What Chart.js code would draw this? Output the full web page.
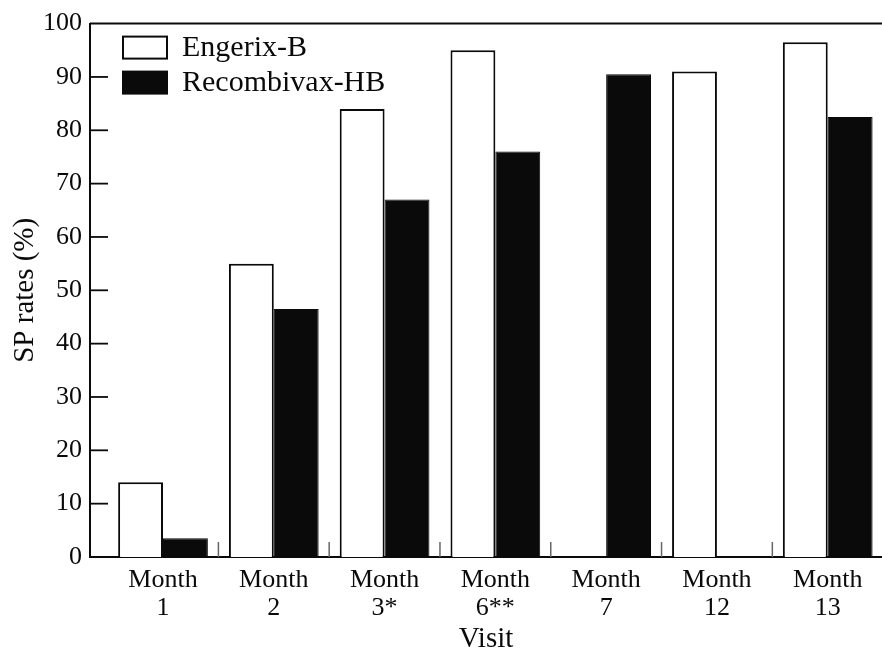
<!DOCTYPE html>
<html>
<head>
<meta charset="utf-8">
<script src="https://cdn.jsdelivr.net/npm/chart.js@4"></script>
<style>
  html, body { margin: 0; padding: 0; background: #fff; }
  #wrap { width: 882px; height: 652px; position: relative; }
</style>
</head>
<body>
<div id="wrap"><canvas id="c"></canvas></div>
<script>
const categories = [["Month", "1"], ["Month", "2"], ["Month", "3*"], ["Month", "6**"], ["Month", "7"], ["Month", "12"], ["Month", "13"]];
const engerixValues = [14, 55, 84, 95, null, 91, 96.5];
const recombivaxValues = [3.5, 46.5, 67, 76, 90.5, null, 82.5];
const yTicks = [0, 10, 20, 30, 40, 50, 60, 70, 80, 90, 100];

const FONT = "'Liberation Serif', 'Times New Roman', serif";
const INK = "#0a0a0a";

function toPoints(vals) {
  return vals.map((v, i) => ({ x: i + 1, y: v }));
}

const framePlugin = {
  id: 'frame',
  afterDatasetsDraw(chart) {
    const { ctx, chartArea: a, scales } = chart;
    const y = scales.y, x = scales.x;
    ctx.save();
    ctx.strokeStyle = INK;
    ctx.lineWidth = 2;
    // top border
    ctx.beginPath();
    ctx.moveTo(a.left, a.top);
    ctx.lineTo(a.right, a.top);
    ctx.stroke();
    // inward tick marks on y axis
    ctx.lineWidth = 1.8;
    yTicks.forEach(v => {
      if (v === 0 || v === 100) return;
      const py = y.getPixelForValue(v);
      ctx.beginPath();
      ctx.moveTo(a.left, py);
      ctx.lineTo(a.left + 18, py);
      ctx.stroke();
    });
    // small separator marks between visits
    ctx.strokeStyle = "#666";
    ctx.lineWidth = 1.5;
    for (let i = 1; i < categories.length; i++) {
      const px = x.getPixelForValue(i + 0.5);
      ctx.beginPath();
      ctx.moveTo(px, a.bottom);
      ctx.lineTo(px, a.bottom - 15);
      ctx.stroke();
    }
    // legend
    const lx = a.left + 33, ly = a.top + 13;
    const sets = chart.data.datasets;
    sets.forEach((ds, k) => {
      const by = ly + k * 35;
      ctx.fillStyle = ds.backgroundColor;
      ctx.fillRect(lx, by, 44, 22);
      ctx.strokeStyle = INK;
      ctx.lineWidth = 2;
      ctx.strokeRect(lx, by, 44, 22);
      ctx.fillStyle = INK;
      ctx.font = "30px " + FONT;
      ctx.textBaseline = 'middle';
      ctx.textAlign = 'left';
      ctx.fillText(ds.label, lx + 59, by + 12);
    });
    ctx.restore();
  }
};

new Chart(document.getElementById('c'), {
  type: 'bar',
  data: {
    datasets: [
      {
        label: 'Engerix-B',
        data: toPoints(engerixValues),
        backgroundColor: '#ffffff',
        borderColor: INK,
        borderWidth: 2,
        categoryPercentage: 0.81,
        barPercentage: 1.0
      },
      {
        label: 'Recombivax-HB',
        data: toPoints(recombivaxValues),
        backgroundColor: INK,
        borderColor: INK,
        borderWidth: 1,
        categoryPercentage: 0.81,
        barPercentage: 1.0
      }
    ]
  },
  options: {
    responsive: true,
    maintainAspectRatio: false,
    animation: false,
    layout: { padding: { top: 22, right: 0, left: 0, bottom: 0 } },
    plugins: {
      legend: { display: false },
      tooltip: { enabled: false }
    },
    scales: {
      x: {
        type: 'linear',
        min: 0.341,
        max: 7.49,
        offset: false,
        grid: { display: false, drawTicks: false },
        border: { display: true, color: INK, width: 2 },
        afterBuildTicks(scale) {
          scale.ticks = categories.map((c, i) => ({ value: i + 1 }));
        },
        afterFit(scale) { scale.height = 95; },
        ticks: {
          autoSkip: false,
          maxRotation: 0,
          padding: 9,
          color: INK,
          font: { family: FONT, size: 26, lineHeight: 1.07 },
          callback(value) { return categories[Math.round(value) - 1]; }
        },
        title: {
          display: true,
          text: 'Visit',
          color: INK,
          font: { family: FONT, size: 29, lineHeight: 0.9 },
          padding: { top: 0, bottom: 0 }
        }
      },
      y: {
        min: 0,
        max: 100,
        grid: { display: false, drawTicks: false },
        border: { display: true, color: INK, width: 2 },
        afterBuildTicks(scale) {
          scale.ticks = yTicks.map(v => ({ value: v }));
        },
        afterFit(scale) { scale.width = 90; },
        ticks: {
          padding: 8,
          color: INK,
          font: { family: FONT, size: 26 }
        },
        title: {
          display: true,
          text: 'SP rates (%)',
          color: INK,
          font: { family: FONT, size: 29, lineHeight: 1.0 },
          padding: { top: 11, bottom: 0 }
        }
      }
    }
  },
  plugins: [framePlugin]
});
</script>
</body>
</html>
